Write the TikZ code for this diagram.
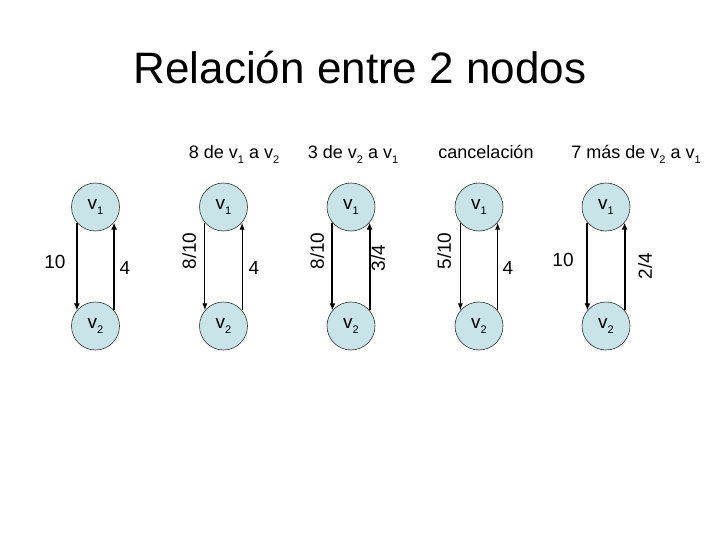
\documentclass[tikz,border=0pt]{standalone}
\usepackage{fontspec}
\setmainfont{Liberation Sans}
\usetikzlibrary{arrows.meta}
\definecolor{nodefill}{RGB}{200,228,233}
\newcommand{\mysub}[1]{\raisebox{-0.45ex}{\fontsize{11}{11}\selectfont #1}}
\begin{document}
\begin{tikzpicture}[x=1pt,y=-1pt,
  vert/.style={circle,draw=black!80,line width=0.6pt,fill=nodefill,minimum size=48pt,inner sep=0pt,font=\fontsize{19}{20}\selectfont},
  lbl/.style={font=\fontsize{19}{20}\selectfont,inner sep=0pt},
  head/.style={font=\fontsize{18}{20}\selectfont,inner sep=0pt,anchor=base},
  thickarr/.style={line width=1.8pt,-{Latex[length=7pt,width=6pt]}},
  thinarr/.style={line width=0.9pt,-{Latex[length=7pt,width=5pt]}}]
\useasboundingbox (0,0) rectangle (720,540);
\node[font=\fontsize{44}{48}\selectfont] (title) at (360,68) {Relación entre 2 nodos};
% headings
\node[head] (h2) at (234,159) {8 de v\mysub{1} a v\mysub{2}};
\node[head] (h3) at (353,159) {3 de v\mysub{2} a v\mysub{1}};
\node[head] (h4) at (486,159) {cancelación};
\node[head] (h5) at (636,159) {7 más de v\mysub{2} a v\mysub{1}};
% graph 1
\node[vert] (a1) at (95.5,207) {v\mysub{1}};
\node[vert] (a2) at (95.5,326) {v\mysub{2}};
\draw[thickarr] (a1.220) -- (a2.140);
\draw[thickarr] (a2.40) -- (a1.320);
\node[lbl] (la1) at (55,262) {10};
\node[lbl] (la2) at (125,268) {4};
% graph 2
\node[vert] (b1) at (223.5,207) {v\mysub{1}};
\node[vert] (b2) at (223.5,326) {v\mysub{2}};
\draw[thinarr] (b1.220) -- (b2.140);
\draw[thinarr] (b2.40) -- (b1.320);
\node[lbl,rotate=90] (lb1) at (189,251) {8/10};
\node[lbl] (lb2) at (254,268) {4};
% graph 3
\node[vert] (c1) at (351,207) {v\mysub{1}};
\node[vert] (c2) at (351,326) {v\mysub{2}};
\draw[thickarr] (c1.220) -- (c2.140);
\draw[thickarr] (c2.40) -- (c1.320);
\node[lbl,rotate=90] (lc1) at (317,251) {8/10};
\node[lbl,rotate=90] (lc2) at (378,258) {3/4};
% graph 4
\node[vert] (d1) at (479,207) {v\mysub{1}};
\node[vert] (d2) at (479,326) {v\mysub{2}};
\draw[thinarr] (d1.220) -- (d2.140);
\draw[thinarr] (d2.40) -- (d1.320);
\node[lbl,rotate=90] (ld1) at (444,251) {5/10};
\node[lbl] (ld2) at (508,268) {4};
% graph 5
\node[vert] (e1) at (606,207) {v\mysub{1}};
\node[vert] (e2) at (606,326) {v\mysub{2}};
\draw[thickarr] (e1.220) -- (e2.140);
\draw[thickarr] (e2.40) -- (e1.320);
\node[lbl] (le1) at (563,260) {10};
\node[lbl,rotate=90] (le2) at (645,266) {2/4};
\end{tikzpicture}
\end{document}
